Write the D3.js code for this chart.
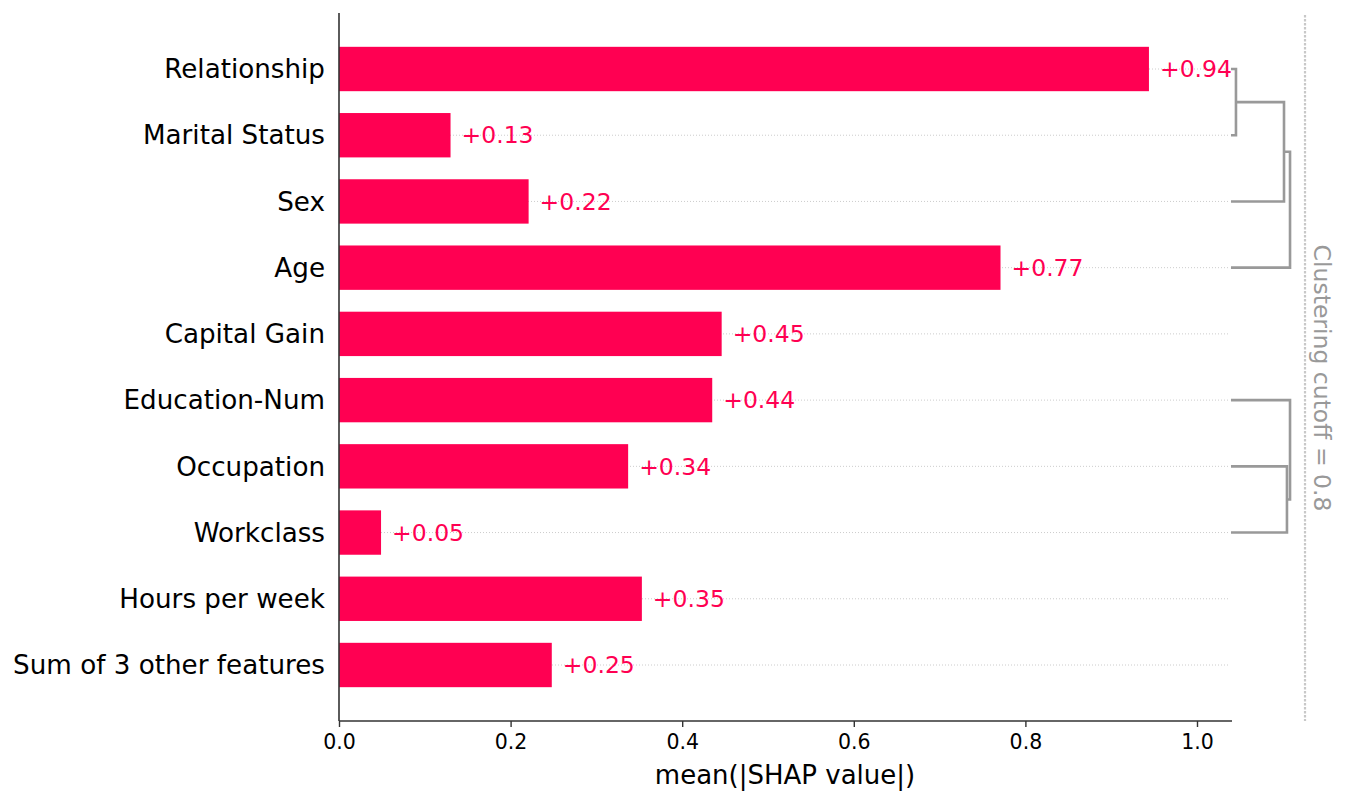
<!DOCTYPE html>
<html>
  <head>
    <meta charset="UTF-8">
    <title>Mean SHAP bar with clustering</title>
    <script src="https://cdn.jsdelivr.net/npm/d3@7"></script>
    <style>
      body, html { margin:0; padding:0; background:#fff; }
      text { font-family: "DejaVu Sans", sans-serif; }
    </style>
  </head>
  <body>
  <div id="chart"></div>
<script type="text/javascript">

  // data
  var features = ['Relationship', 'Marital Status', 'Sex', 'Age', 'Capital Gain',
                  'Education-Num', 'Occupation', 'Workclass', 'Hours per week', 'Sum of 3 other features'];
  var values = [0.944, 0.13, 0.221, 0.771, 0.446, 0.435, 0.337, 0.049, 0.353, 0.248];
  var valueLabels = ['+0.94', '+0.13', '+0.22', '+0.77', '+0.45', '+0.44', '+0.34', '+0.05', '+0.35', '+0.25'];
  var xTicks = [0.0, 0.2, 0.4, 0.6, 0.8, 1.0];
  // dendrogram merges: [top row, bottom row, distance]  (rows can be fractional = merged node centre)
  var merges = [
    [0, 1, 0.054],
    [0.5, 2, 0.573],
    [1.25, 3, 0.638],
    [6, 7, 0.605],
    [5, 6.5, 0.638]
  ];
  var cutoff = 0.8;

  var W = 1347, H = 804;
  var svg = d3.select('#chart').append('svg').attr('width', W).attr('height', H);

  var x = d3.scaleLinear().domain([0, 1.0408]).range([339, 1232]);
  var y = d3.scaleLinear().domain([0, 9]).range([69, 665]);
  var rowH = y(1) - y(0);
  var barH = rowH * 0.67;
  var red = '#ff0052';

  // dotted row guides
  svg.selectAll('.guide').data(features).enter().append('line')
    .attr('x1', x(0)).attr('x2', x(1.0385))
    .attr('y1', function(d,i){ return y(i); }).attr('y2', function(d,i){ return y(i); })
    .attr('stroke', '#cccccc').attr('stroke-width', 1).attr('stroke-dasharray', '1,2');

  // bars
  svg.selectAll('.bar').data(values).enter().append('rect')
    .attr('x', x(0))
    .attr('y', function(d,i){ return y(i) - barH/2; })
    .attr('width', function(d){ return x(d) - x(0); })
    .attr('height', barH)
    .attr('fill', red);

  // value labels
  svg.selectAll('.vlab').data(values).enter().append('text')
    .attr('x', function(d){ return x(d) + 11; })
    .attr('y', function(d,i){ return y(i); })
    .attr('dy', '0.35em')
    .attr('font-size', 23.5)
    .attr('fill', red)
    .text(function(d,i){ return valueLabels[i]; });

  // feature labels
  svg.selectAll('.flab').data(features).enter().append('text')
    .attr('x', 325)
    .attr('y', function(d,i){ return y(i); })
    .attr('dy', '0.35em')
    .attr('text-anchor', 'end')
    .attr('font-size', 26.2)
    .attr('fill', '#000')
    .text(function(d){ return d; });

  // axes spines
  svg.append('line').attr('x1', x(0)).attr('x2', x(0)).attr('y1', 13).attr('y2', 721)
    .attr('stroke', '#333').attr('stroke-width', 1.6);
  var xAxis = svg.append('g').attr('transform', 'translate(0,721)')
    .call(d3.axisBottom(x).tickValues(xTicks).tickFormat(d3.format('.1f')).tickSize(6).tickPadding(7));
  xAxis.select('.domain').attr('stroke', '#333').attr('stroke-width', 1.6)
    .attr('d', 'M' + x(0) + ',0H' + x.range()[1]);
  xAxis.selectAll('.tick line').attr('stroke', '#333').attr('stroke-width', 1.4);
  xAxis.selectAll('.tick text').attr('font-size', 20.5).attr('fill', '#000')
    .attr('font-family', '"DejaVu Sans", sans-serif');

  svg.append('text').attr('x', 785).attr('y', 784).attr('text-anchor', 'middle')
    .attr('font-size', 26).attr('fill', '#000').text('mean(|SHAP value|)');

  // dendrogram
  var dx = d3.scaleLinear().domain([0, cutoff]).range([x(1.0396), x(1.1259)]);
  var nodeH = {};
  var g = svg.append('g').attr('fill', 'none').attr('stroke', '#999').attr('stroke-width', 2.6);
  merges.forEach(function(m) {
    var h1 = nodeH[m[0]] || 0, h2 = nodeH[m[1]] || 0;
    var path = 'M' + dx(h1) + ',' + y(m[0]) + 'H' + dx(m[2]) + 'V' + y(m[1]) + 'H' + dx(h2);
    g.append('path').attr('d', path);
    nodeH[(m[0] + m[1]) / 2] = m[2];
  });

  // cutoff line and label
  svg.append('line').attr('x1', dx(cutoff)).attr('x2', dx(cutoff)).attr('y1', 15).attr('y2', 721)
    .attr('stroke', '#c8c8c8').attr('stroke-width', 2.2).attr('stroke-dasharray', '2.5,1.5');
  svg.append('text')
    .attr('transform', 'translate(' + (dx(cutoff) + 9) + ',378) rotate(90)')
    .attr('text-anchor', 'middle')
    .attr('font-size', 23.5).attr('fill', '#999')
    .text('Clustering cutoff = ' + cutoff);

</script>
  </body>
</html>
